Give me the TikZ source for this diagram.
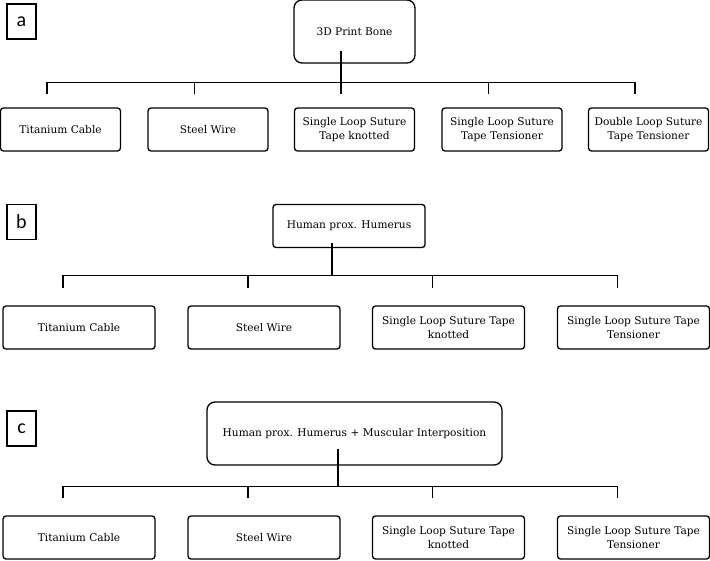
\documentclass[tikz,border=0pt]{standalone}
\usepackage{fontspec}
\setmainfont{DejaVu Serif}
\newfontfamily\tagfont{Carlito}
\begin{document}
\begin{tikzpicture}[x=1pt,y=-1pt,
  box/.style={draw,line width=1.3pt,rounded corners=3pt,minimum width=120pt,minimum height=43pt,align=center,inner sep=2pt,font=\fontsize{10.6}{13.3}\selectfont},
  wide/.style={box,minimum width=152pt},
  root/.style={box,rounded corners=8pt,minimum height=63pt},
  tag/.style={draw,line width=1.3pt,minimum width=29pt,minimum height=35pt,inner sep=0pt,font=\tagfont\fontsize{20}{20}\selectfont},
  link/.style={line width=1.3pt}]
\useasboundingbox (0,0) rectangle (710,560);

\node[tag] (ta) at (21.5,21.5) {a};
\node[root,minimum width=121pt] (ra) at (354.5,31.5) {3D Print Bone};
\node[box] (ca1) at (60.5,129.5) {Titanium Cable};
\node[box] (ca2) at (208,129.5) {Steel Wire};
\node[box] (ca3) at (354.5,129.5) {Single Loop Suture\\Tape knotted};
\node[box] (ca4) at (502,129.5) {Single Loop Suture\\Tape Tensioner};
\node[box] (ca5) at (648.5,129.5) {Double Loop Suture\\Tape Tensioner};
\coordinate (sa) at ([shift={(-13.5,19.5)}]ra.center);
\coordinate (da1) at ([shift={(-13.5,-13)}]ca1.north);
\coordinate (da2) at ([shift={(-13.5,-13)}]ca2.north);
\coordinate (da3) at ([shift={(-13.5,-13)}]ca3.north);
\coordinate (da4) at ([shift={(-13.5,-13)}]ca4.north);
\coordinate (da5) at ([shift={(-13.5,-13)}]ca5.north);
\draw[link] (da1) -- ++(0,-12) -| (da5);
\draw[link] (da2) -- ++(0,-12);
\draw[link] (da4) -- ++(0,-12);
\draw[link] (sa) -- (da3);

\node[tag] (tb) at (21.5,222) {b};
\node[root,wide] (rb) at (349,226) {Human prox. Humerus};
\node[wide] (cb1) at (79,327.5) {Titanium Cable};
\node[wide] (cb2) at (264,327.5) {Steel Wire};
\node[wide] (cb3) at (448.5,327.5) {Single Loop Suture Tape\\knotted};
\node[wide] (cb4) at (633.5,327.5) {Single Loop Suture Tape\\Tensioner};
\coordinate (sb) at ([shift={(-17,17)}]rb.center);
\coordinate (db1) at ([shift={(-16,-17)}]cb1.north);
\coordinate (db2) at ([shift={(-16,-17)}]cb2.north);
\coordinate (db3) at ([shift={(-16,-17)}]cb3.north);
\coordinate (db4) at ([shift={(-16,-17)}]cb4.north);
\draw[link] (db1) -- ++(0,-13) coordinate (jb) -| (db4);
\draw[link] (db2) -- ++(0,-13);
\draw[link] (db3) -- ++(0,-13);
\draw[link] (sb) -- (sb |- jb);

\node[tag] (tc) at (21.5,428.5) {c};
\node[root,minimum width=295pt] (rc) at (354.5,433.5) {Human prox. Humerus + Muscular Interposition};
\node[wide] (cc1) at (79,537.5) {Titanium Cable};
\node[wide] (cc2) at (264,537.5) {Steel Wire};
\node[wide] (cc3) at (448.5,537.5) {Single Loop Suture Tape\\knotted};
\node[wide] (cc4) at (633.5,537.5) {Single Loop Suture Tape\\Tensioner};
\coordinate (sc) at ([shift={(-16.5,15.5)}]rc.center);
\coordinate (dc1) at ([shift={(-16,-17)}]cc1.north);
\coordinate (dc2) at ([shift={(-16,-17)}]cc2.north);
\coordinate (dc3) at ([shift={(-16,-17)}]cc3.north);
\coordinate (dc4) at ([shift={(-16,-17)}]cc4.north);
\draw[link] (dc1) -- ++(0,-12) coordinate (jc) -| (dc4);
\draw[link] (dc2) -- ++(0,-12);
\draw[link] (dc3) -- ++(0,-12);
\draw[link] (sc) -- (sc |- jc);
\end{tikzpicture}
\end{document}
